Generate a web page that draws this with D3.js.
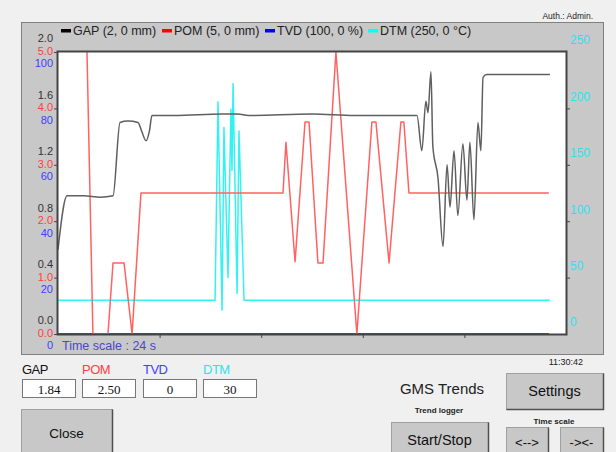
<!DOCTYPE html>
<html><head><meta charset="utf-8">
<script src="https://cdn.jsdelivr.net/npm/d3@7"></script>
<style>
html,body{margin:0;padding:0;background:#f0f0f0;}
svg{display:block;}
</style></head>
<body><svg id="c" width="616" height="452"></svg>
<script>
// ---- data ----
const gapTime = [0,0.43,1.2,2.0,2.6,2.93,3.3,3.78,3.95,4.16,4.32,4.44,5.5,7.75,8.5,9,12,14,16.96,17.19,17.38,17.48,17.62,17.71,17.95,18.19,18.38,18.52,18.71,18.89,19.13,19.32,19.46,19.65,19.84,19.98,20.08,20.26,21.5,23.24];
const gapValue = [0.60,0.98,0.98,0.97,0.98,1.50,1.51,1.50,1.44,1.37,1.44,1.55,1.55,1.56,1.56,1.55,1.56,1.55,1.55,1.30,1.65,1.57,1.86,1.33,1.11,0.62,1.20,0.90,1.30,0.84,1.35,0.95,1.36,0.81,1.50,1.30,1.82,1.84,1.84,1.84];
const pomTime = [1.37,1.65,2.36,2.60,3.12,3.50,3.92,10.63,10.77,11.20,11.67,11.86,12.28,12.52,13.13,14.12,14.83,15.02,15.64,16.20,16.34,16.58,23.19];
const pomValue = [5.0,0,0,1.26,1.26,0,2.50,2.50,3.40,1.28,3.76,3.76,1.26,1.26,5.0,0,3.76,3.76,1.26,3.76,3.76,2.50,2.50];
const tvdTime = [0,23.2];
const tvdValue = [0,0];
const dtmTime = [0,7.42,7.56,7.75,7.84,8.03,8.17,8.22,8.27,8.46,8.55,8.79,23.24];
const dtmValue = [30,30,206,21,183,50,199,145,222,36,180,30,30];

const gapTicks = ["0.0","0.4","0.8","1.2","1.6","2.0"];
const pomTicks = ["0.0","1.0","2.0","3.0","4.0","5.0"];
const tvdTicks = ["0","20","40","60","80","100"];
const dtmTicks = ["0","50","100","150","200","250"];
const legendNames = ["GAP (2, 0 mm)","POM (5, 0 mm)","TVD (100, 0 %)","DTM (250, 0 °C)"];
const boxNames = ["GAP","POM","TVD","DTM"];
const boxValues = ["1.84","2.50","0","30"];

// ---- drawing ----
const svg = d3.select("#c");
const FONT = "'Liberation Sans', Arial, sans-serif";
const L=58, R=566, T=52, B=334;
const x = d3.scaleLinear().domain([0,24]).range([L,R]);
const yGap = d3.scaleLinear().domain([0,2]).range([B,T]);
const yPom = d3.scaleLinear().domain([0,5]).range([B,T]);
const yTvd = d3.scaleLinear().domain([0,100]).range([B,T]);
const yDtm = d3.scaleLinear().domain([0,250]).range([B,T]);
const serColors = ["#000000","#ff0000","#0000ff","#00ffff"];
const lblColors = ["#333333","#ff4040","#4040ff","#30e0f0"];

// page frame
svg.append("rect").attr("x",0).attr("y",0).attr("width",616).attr("height",452).attr("fill","#f0f0f0");
svg.append("text").attr("x",593).attr("y",19).attr("text-anchor","end").attr("font-family",FONT).attr("font-size",8.5).attr("fill","#222").text("Auth.: Admin.");

// panel
svg.append("rect").attr("x",21.5).attr("y",22.5).attr("width",582).attr("height",332).attr("fill","#c8c8c8").attr("stroke","#808080").attr("stroke-width",1);
// plot
svg.append("rect").attr("x",L).attr("y",T).attr("width",R-L).attr("height",B-T).attr("fill","#ffffff");

// legend
const lgX = [61,162,265,368];
legendNames.forEach((n,i)=>{
  svg.append("rect").attr("x",lgX[i]).attr("y",29).attr("width",10).attr("height",3.5).attr("fill",serColors[i]);
  svg.append("text").attr("x",lgX[i]+12).attr("y",35).attr("font-family",FONT).attr("font-size",12.5).attr("fill","#222").text(n);
});

// lines
svg.append("clipPath").attr("id","pc").append("rect").attr("x",L).attr("y",T).attr("width",R-L).attr("height",B-T);
const g = svg.append("g").attr("clip-path","url(#pc)");
function drawLine(times, vals, y, color, w, curve){
  const pts = times.map((t,i)=>[t,vals[i]]);
  g.append("path").datum(pts).attr("fill","none").attr("stroke",color).attr("stroke-width",w).attr("stroke-linejoin","round")
   .attr("d", d3.line().x(d=>x(d[0])).y(d=>y(d[1])).curve(curve)(pts));
}
drawLine(tvdTime,tvdValue,yTvd,"#0000ff",1.5,d3.curveLinear);
drawLine(dtmTime,dtmValue,yDtm,"#33f2f2",1.5,d3.curveLinear);
drawLine(pomTime,pomValue,yPom,"#ff6262",1.5,d3.curveLinear);
drawLine(gapTime,gapValue,yGap,"#5f5f5f",1.5,d3.curveMonotoneX);

// plot border
svg.append("rect").attr("x",L-0.5).attr("y",T-0.5).attr("width",R-L+1).attr("height",B-T+1).attr("fill","none").attr("stroke","#444").attr("stroke-width",2);

// left axis
const leftAx = svg.append("g").attr("transform",`translate(${L-1},0)`).call(d3.axisLeft(yGap).tickValues([0,0.4,0.8,1.2,1.6,2.0]).tickSize(3).tickFormat(""));
leftAx.select(".domain").remove();
leftAx.selectAll("line").attr("stroke","#444");
const gv = [0,0.4,0.8,1.2,1.6,2.0];
gv.forEach((v,i)=>{
  const ty = yGap(v);
  const rows = [[gapTicks[i],-13.5,lblColors[0]],[pomTicks[i],-1,lblColors[1]],[tvdTicks[i],11.5,lblColors[2]]];
  rows.forEach(r=>{
    svg.append("text").attr("x",53).attr("y",ty+r[1]).attr("dy","0.36em").attr("text-anchor","end")
      .attr("font-family",FONT).attr("font-size",11).attr("fill",r[2]).text(r[0]);
  });
});

// right axis
const rightAx = svg.append("g").attr("transform",`translate(${R+1},0)`).call(d3.axisRight(yDtm).tickValues([50,100,150,200]).tickSize(3).tickFormat(""));
rightAx.select(".domain").remove();
rightAx.selectAll("line").attr("stroke","#444");
[0,50,100,150,200,250].forEach((v,i)=>{
  svg.append("text").attr("x",570).attr("y",yDtm(v)-12).attr("dy","0.36em").attr("font-family",FONT).attr("font-size",12).attr("fill",lblColors[3]).text(dtmTicks[i]);
});

// bottom axis
const botAx = svg.append("g").attr("transform",`translate(0,${B+1})`).call(d3.axisBottom(x).tickValues([4.8,9.6,14.4,19.2]).tickSize(3).tickFormat(""));
botAx.select(".domain").remove();
botAx.selectAll("line").attr("stroke","#444");
svg.append("text").attr("x",62).attr("y",345).attr("dy","0.36em").attr("font-family",FONT).attr("font-size",12.5).attr("fill","#4848c8").text("Time scale : 24 s");

// time stamp
svg.append("text").attr("x",583).attr("y",362).attr("dy","0.36em").attr("text-anchor","end").attr("font-family",FONT).attr("font-size",9).attr("fill","#222").text("11:30:42");

// value labels and boxes
const bx = [22,82,143,203];
boxNames.forEach((n,i)=>{
  svg.append("text").attr("x",bx[i]).attr("y",369).attr("dy","0.36em").attr("font-family",FONT).attr("font-size",13).attr("fill",i===0?"#111":lblColors[i]).attr("letter-spacing",-0.5).text(n);
  svg.append("rect").attr("x",bx[i]+0.5).attr("y",379.5).attr("width",53).attr("height",18).attr("fill","#fff").attr("stroke","#777");
  svg.append("text").attr("x",bx[i]+27).attr("y",389).attr("dy","0.36em").attr("text-anchor","middle").attr("font-family","'Liberation Serif', 'Times New Roman', serif").attr("font-size",13).attr("fill","#111").text(boxValues[i]);
});

// buttons
function button(x0,y0,w,h,label,fs){
  svg.append("rect").attr("x",x0+0.5).attr("y",y0+0.5).attr("width",w).attr("height",h).attr("fill","#c8c8c8").attr("stroke","#a0a0a0");
  svg.append("path").attr("d",`M${x0+w+0.5},${y0+0.5}V${y0+h+0.5}H${x0+0.5}`).attr("fill","none").attr("stroke","#505050").attr("stroke-width",1.5);
  svg.append("text").attr("x",x0+w/2).attr("y",y0+Math.min(h,36)/2+(h>40?6:0)).attr("dy","0.36em").attr("text-anchor","middle").attr("font-family",FONT).attr("font-size",fs).attr("fill","#111").text(label);
}
button(21,409,91,48,"Close",13.5);
button(506,373,97,36,"Settings",14.5);
button(391,422,97,36,"Start/Stop",14.5);
button(506,427,42,30,"<-->",13);
button(560,427,43,30,"-><-",13);
svg.append("text").attr("x",442).attr("y",389).attr("dy","0.36em").attr("text-anchor","middle").attr("font-family",FONT).attr("font-size",15).attr("fill","#222").text("GMS Trends");
svg.append("text").attr("x",439).attr("y",410).attr("dy","0.36em").attr("text-anchor","middle").attr("font-family",FONT).attr("font-size",8).attr("font-weight","bold").attr("fill","#222").text("Trend logger");
svg.append("text").attr("x",554).attr("y",421).attr("dy","0.36em").attr("text-anchor","middle").attr("font-family",FONT).attr("font-size",8).attr("font-weight","bold").attr("fill","#222").text("Time scale");
</script></body></html>
